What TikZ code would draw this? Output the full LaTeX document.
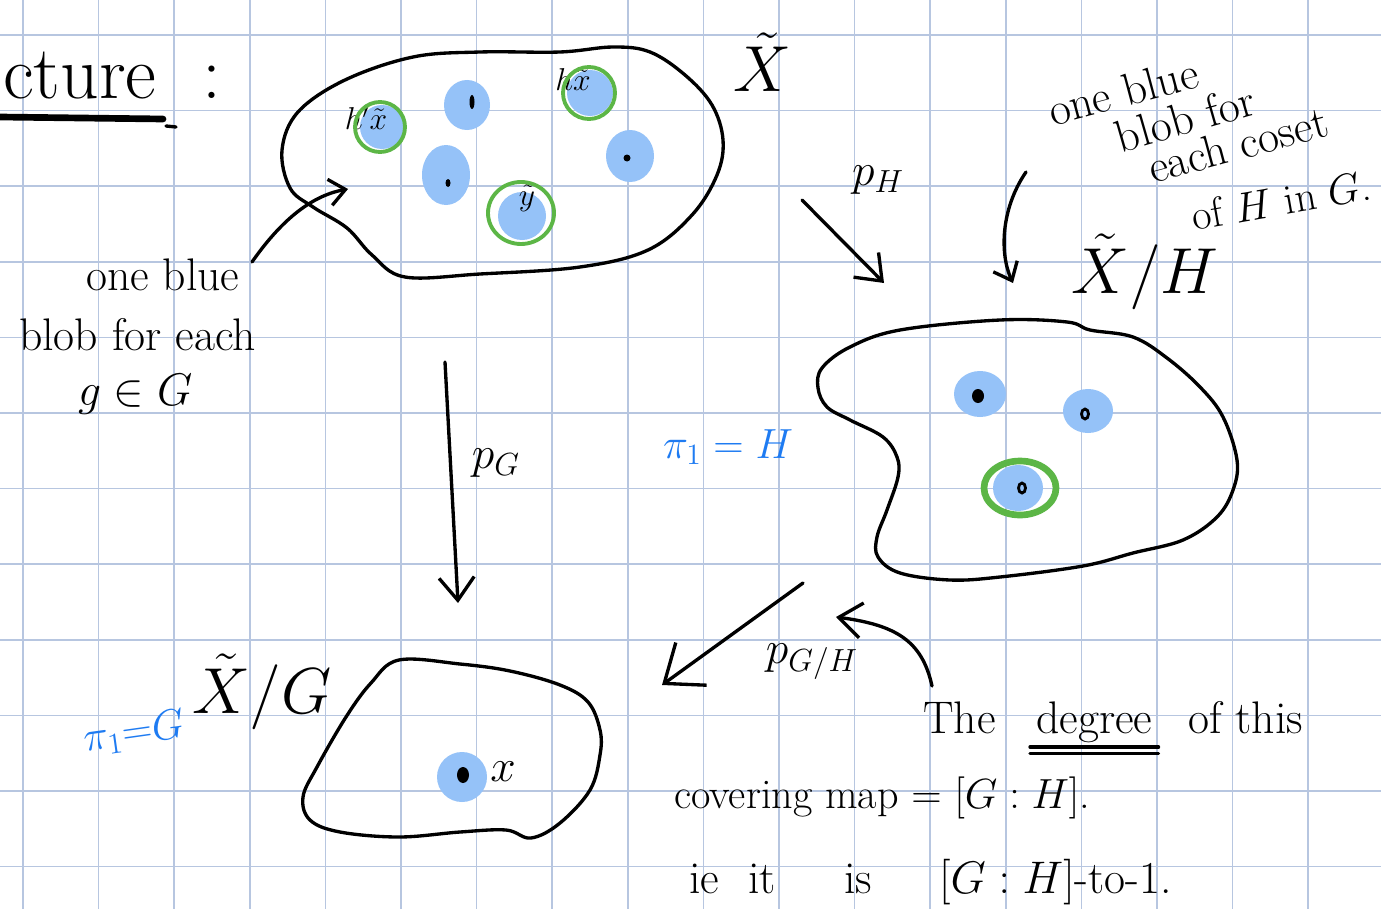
\documentclass[tikz,border=0pt]{standalone}
\usepackage{fix-cm}
\usepackage{amsmath}
\definecolor{gridblue}{HTML}{B7C6E0}
\definecolor{blobblue}{HTML}{95C2F8}
\definecolor{ringgreen}{HTML}{5CB646}
\definecolor{inkblue}{HTML}{1E7BF2}
\usetikzlibrary{arrows.meta, positioning}

\begin{document}
\begin{tikzpicture}[x=0.02cm, y=-0.02cm,
    pen/.style={line width=1.9pt, line cap=round, line join=round},
    arr/.style={pen, -{Straight Barb[length=13pt, width=20pt]}},
    bigarr/.style={pen, -{Straight Barb[length=19pt, width=30pt]}},
    smallarr/.style={pen, -{Straight Barb[length=9pt, width=15pt]}},
    blob/.style={fill=blobblue},
    ring/.style={draw=ringgreen, line width=2.2pt},
    hand/.style={font=\fontsize{26}{28}\selectfont},
    bighand/.style={font=\fontsize{37}{40}\selectfont},
    smallhand/.style={font=\fontsize{18}{20}\selectfont},
    blueink/.style={text=inkblue}]
\useasboundingbox (0,0) rectangle (1381,909);
\clip (0,0) rectangle (1381,909);
\fill[white] (0,0) rectangle (1381,909);
% squared paper
\foreach \gx in {0,...,17}
  \draw[gridblue, line width=0.9pt] ({23+75.6*\gx},0) -- ({23+75.6*\gx},909);
\foreach \gy in {0,...,11}
  \draw[gridblue, line width=0.9pt] (0,{35+75.6*\gy}) -- (1381,{35+75.6*\gy});

\node[font=\fontsize{43}{45}\selectfont, anchor=base west] (title) at (-3,98) {cture\ \ :};
\draw[line width=3.8pt, line cap=round] (0,117) -- (163,119);
\draw[pen] (166,126) -- (176,127);

% the cover X~
\draw[pen] plot[smooth cycle, tension=0.6] coordinates {(282,150) (298,112) (345,80) (413,57)
  (480,52) (560,52) (613,47) (650,52) (685,75) (712,105) (723,140) (717,175) (692,215)
  (648,250) (580,267) (480,274) (405,277) (372,255) (347,228) (313,207) (290,188)};
\fill[blob] (382,127) circle (22);
\fill[blob] (467,105) ellipse [x radius=23, y radius=25];
\fill[blob] (446,175) ellipse [x radius=24, y radius=30];
\fill[blob] (522,216) circle (24);
\fill[blob] (590,93) circle (23);
\fill[blob] (630,156) ellipse [x radius=24, y radius=26];
\fill (472,102) ellipse [x radius=2.5, y radius=7];
\fill (448,183) ellipse [x radius=2.5, y radius=4];
\fill (627,158) circle (3.5);
\node[smallhand] (hpx) at (366,118) {$h'\tilde{x}$};
\node[smallhand] (hx) at (573,80) {$h\tilde{x}$};
\node[smallhand] (yt) at (527,198) {$\tilde{y}$};
\draw[ring] (380,127) circle (25);
\draw[ring] (521,213) ellipse [x radius=33, y radius=31];
\draw[ring] (589,93) circle (26);
\node[bighand] (Xt) at (762,62) {$\tilde{X}$};

\node[hand, anchor=base west] (gnoteA) at (80,290) {one blue};
\node[hand, anchor=base west] (gnoteB) at (13,350) {blob for each};
\node[hand, anchor=base west] (gnoteC) at (72,405) {$g \in G$};
\coordinate (gnoteTail) at (252,262);
\coordinate (gnoteTip) at (348,189);
\draw[smallarr] (gnoteTail) .. controls (280,222) and (310,196) .. (gnoteTip);

% p_H
\coordinate (pHtail) at (802,200);
\coordinate (pHtip) at (884,283);
\draw[arr] (pHtail) -- (pHtip);
\node[hand] (pH) at (878,180) {$p_H$};

\node[hand, rotate=15, anchor=base west] (cosetA) at (1047,128) {one blue};
\node[hand, rotate=16, anchor=base west] (cosetB) at (1115,155) {blob for};
\node[hand, rotate=15, anchor=base west] (cosetC) at (1147,185) {each coset};
\node[font=\fontsize{24}{26}\selectfont, rotate=10, anchor=base west] (cosetD) at (1188,232) {of $H$ in $G$.};
\coordinate (cosetTail) at (1026,172);
\coordinate (cosetTip) at (1013,283);
\draw[smallarr] (cosetTail) .. controls (1000,210) and (1000,255) .. (cosetTip);
\node[bighand] (XH) at (1145,272) {$\tilde{X}/H$};

% X~/H
\draw[pen] plot[smooth cycle, tension=0.6] coordinates {(818,388) (822,368) (850,347) (900,330)
  (1000,320) (1067,322) (1090,330) (1133,337) (1167,358) (1200,387) (1223,417) (1237,460)
  (1233,490) (1217,517) (1183,540) (1133,553) (1083,566) (1000,577) (950,580) (900,573)
  (878,557) (877,537) (887,510) (898,477) (897,457) (883,437) (850,420) (827,407)};
\fill[blob] (980,394) ellipse [x radius=26, y radius=23];
\fill[blob] (1088,411) ellipse [x radius=25, y radius=22];
\fill[blob] (1018,488) ellipse [x radius=25, y radius=23];
\draw[ringgreen, line width=3.8pt] (1020,488) ellipse [x radius=36, y radius=27];
\fill (978,396) ellipse [x radius=6, y radius=7];
\draw[line width=1.6pt] (1085,414) ellipse [x radius=3.5, y radius=5];
\draw[line width=1.6pt] (1022,488) ellipse [x radius=3.5, y radius=5];
\node[font=\fontsize{24}{26}\selectfont, blueink] (piH) at (728,447) {$\pi_1 = H$};

% p_G
\coordinate (pGtail) at (445,362);
\coordinate (pGtip) at (458,603);
\draw[arr] (pGtail) -- (pGtip);
\node[hand] (pG) at (496,463) {$p_G$};

% X~/G
\draw[pen] plot[smooth cycle, tension=0.6] coordinates {(399,660) (460,664) (510,671) (560,685)
  (588,702) (600,730) (600,755) (590,790) (560,823) (531,838) (506,830) (460,832) (399,837)
  (340,832) (310,820) (303,797) (317,767) (346,717) (371,683)};
\fill[blob] (462,777) circle (25);
\fill (463,775) ellipse [x radius=6, y radius=8];
\node[hand] (xpt) at (503,772) {$x$};
\node[bighand] (XG) at (262,692) {$\tilde{X}/G$};
\node[font=\fontsize{24}{26}\selectfont, blueink, rotate=8] (piG) at (134,733) {$\pi_1{=}G$};

% p_{G/H}
\coordinate (pGHtail) at (803,583);
\coordinate (pGHtip) at (662,685);
\draw[bigarr] (pGHtail) -- (pGHtip);
\node[hand] (pGH) at (812,662) {$p_{G/H}$};
\coordinate (degTail) at (932,686);
\coordinate (degTip) at (836,617);
\draw[arr] (degTail) .. controls (922,640) and (895,625) .. (degTip);

\node[hand, anchor=base west] (the) at (917,733) {The};
\node[hand, anchor=base west] (deg) at (1030,733) {degree};
\node[hand, anchor=base west] (ofthis) at (1182,733) {of this};
\draw[pen] ([yshift=-8pt]deg.base west) -- ([yshift=-8pt]deg.base east);
\draw[pen] ([yshift=-11.5pt]deg.base west) -- ([yshift=-11.5pt]deg.base east);
\node[font=\fontsize{24}{26}\selectfont, anchor=base west] (covmap) at (668,808) {covering map $=$ $[G:H]$.};
\node[hand, anchor=base west] (ie) at (683,893) {ie};
\node[hand, anchor=base west] (it) at (742,893) {it};
\node[hand, anchor=base west] (is) at (838,893) {is};
\node[hand, anchor=base west] (toone) at (933,893) {$[G:H]$-to-1.};
\end{tikzpicture}
\end{document}
